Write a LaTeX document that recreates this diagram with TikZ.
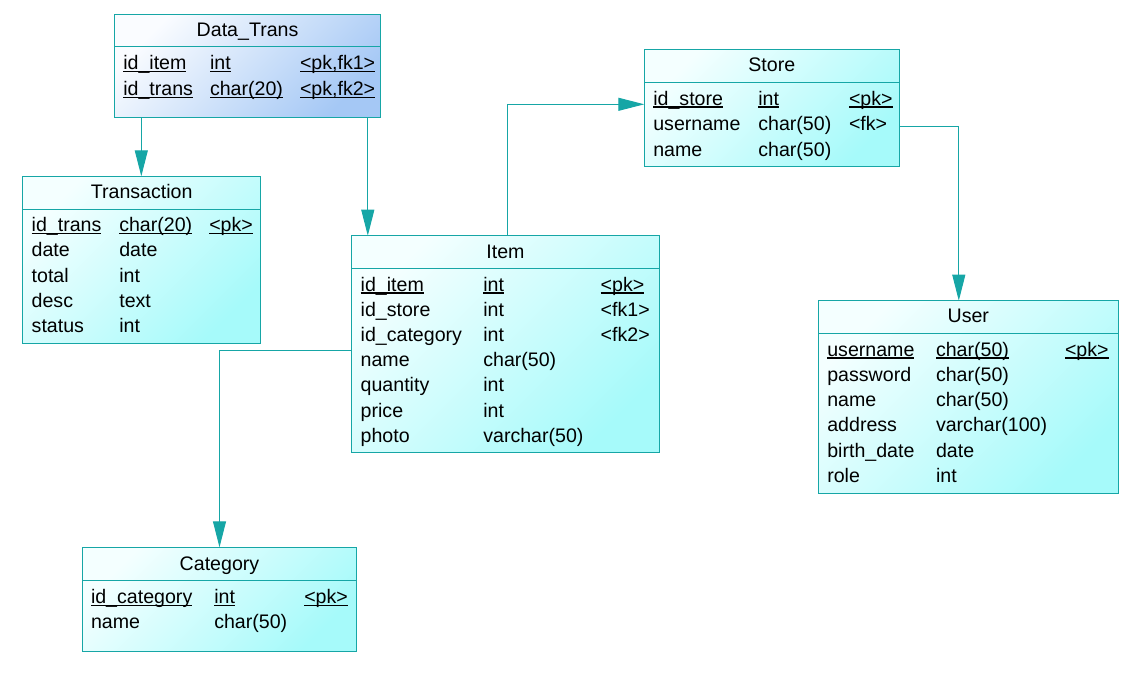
\documentclass[tikz,border=0pt]{standalone}
\usepackage{fontspec}
\setmainfont{Liberation Sans}
\usetikzlibrary{arrows.meta}
\definecolor{edge}{RGB}{22,166,166}
\definecolor{cyanlo}{RGB}{166,250,250}
\definecolor{cyanhi}{RGB}{244,255,255}
\definecolor{bluelo}{RGB}{165,200,245}
\definecolor{bluehi}{RGB}{250,252,255}
\newcommand{\erfld}[4]{\node[fieldtext] (#1) at (#2,-#3) {#4};}
\newcommand{\erpk}[4]{\node[fieldtext] (#1) at (#2,-#3) {#4};
  \draw[uline] ([yshift=-2pt]#1.base west) -- ([yshift=-2pt]#1.base east);}
\begin{document}
\begin{tikzpicture}[x=1pt,y=1pt,
  font=\fontsize{19.6}{22}\selectfont,
  tbl/.style={draw=edge, line width=1pt, inner sep=0pt, outer sep=0pt,
    anchor=north west, top color=cyanhi, bottom color=cyanlo, shading angle=45},
  tblblue/.style={tbl, top color=bluehi, bottom color=bluelo, shading angle=45},
  sep/.style={draw=edge, line width=1pt},
  fieldtext/.style={anchor=base west, inner sep=0pt, outer sep=0pt},
  titletext/.style={anchor=base, inner sep=0pt, outer sep=0pt},
  uline/.style={line width=1.2pt},
  conn/.style={draw=edge, line width=1pt,
    -{Triangle[length=26pt,width=13pt]}, fill=none}]
\useasboundingbox (0,0) rectangle (1133,-677);

% ---- Data_Trans ----
\node[tblblue, minimum width=266.5pt, minimum height=103pt] (dt) at (114.3,-14.5) {};
\draw[sep] (dt.west |- 0,-46.5) -- (dt.east |- 0,-46.5);
\node[titletext] (dtt) at (dt.north |- 0,-36.3) {Data\_Trans};
\erpk{dt1a}{123.3}{69.5}{id\_item}
\erpk{dt1b}{210}{69.5}{int}
\erpk{dt1c}{300}{69.5}{<pk,fk1>}
\erpk{dt2a}{123.3}{95.3}{id\_trans}
\erpk{dt2b}{210}{95.3}{char(20)}
\erpk{dt2c}{300}{95.3}{<pk,fk2>}

% ---- Transaction ----
\node[tbl, minimum width=238pt, minimum height=167pt] (tr) at (22.7,-176.3) {};
\draw[sep] (tr.west |- 0,-209.3) -- (tr.east |- 0,-209.3);
\node[titletext] (trt) at (tr.north |- 0,-198.3) {Transaction};
\erpk{tr1a}{31.7}{231.7}{id\_trans}
\erpk{tr1b}{119.3}{231.7}{char(20)}
\erpk{tr1c}{209.3}{231.7}{<pk>}
\erfld{tr2a}{31.7}{256.9}{date}
\erfld{tr2b}{119.3}{256.9}{date}
\erfld{tr3a}{31.7}{282.1}{total}
\erfld{tr3b}{119.3}{282.1}{int}
\erfld{tr4a}{31.7}{307.2}{desc}
\erfld{tr4b}{119.3}{307.2}{text}
\erfld{tr5a}{31.7}{332.3}{status}
\erfld{tr5b}{119.3}{332.3}{int}

% ---- Item ----
\node[tbl, minimum width=307.6pt, minimum height=217pt] (it) at (351.7,-235.7) {};
\draw[sep] (it.west |- 0,-268.3) -- (it.east |- 0,-268.3);
\node[titletext] (itt) at (it.north |- 0,-258.3) {Item};
\erpk{it1a}{360.7}{291}{id\_item}
\erpk{it1b}{483.3}{291}{int}
\erpk{it1c}{600.7}{291}{<pk>}
\erfld{it2a}{360.7}{316.2}{id\_store}
\erfld{it2b}{483.3}{316.2}{int}
\erfld{it2c}{600.7}{316.2}{<fk1>}
\erfld{it3a}{360.7}{341.4}{id\_category}
\erfld{it3b}{483.3}{341.4}{int}
\erfld{it3c}{600.7}{341.4}{<fk2>}
\erfld{it4a}{360.7}{366.6}{name}
\erfld{it4b}{483.3}{366.6}{char(50)}
\erfld{it5a}{360.7}{391.8}{quantity}
\erfld{it5b}{483.3}{391.8}{int}
\erfld{it6a}{360.7}{417}{price}
\erfld{it6b}{483.3}{417}{int}
\erfld{it7a}{360.7}{442.3}{photo}
\erfld{it7b}{483.3}{442.3}{varchar(50)}

% ---- Store ----
\node[tbl, minimum width=255pt, minimum height=116.3pt] (st) at (644.3,-49.7) {};
\draw[sep] (st.west |- 0,-82.3) -- (st.east |- 0,-82.3);
\node[titletext] (stt) at (st.north |- 0,-71.7) {Store};
\erpk{st1a}{653.3}{105}{id\_store}
\erpk{st1b}{758.3}{105}{int}
\erpk{st1c}{849}{105}{<pk>}
\erfld{st2a}{653.3}{130.5}{username}
\erfld{st2b}{758.3}{130.5}{char(50)}
\erfld{st2c}{849}{130.5}{<fk>}
\erfld{st3a}{653.3}{156}{name}
\erfld{st3b}{758.3}{156}{char(50)}

% ---- User ----
\node[tbl, minimum width=300pt, minimum height=192.6pt] (us) at (818.3,-300.7) {};
\draw[sep] (us.west |- 0,-333.3) -- (us.east |- 0,-333.3);
\node[titletext] (ust) at (us.north |- 0,-322.7) {User};
\erpk{us1a}{827.3}{356}{username}
\erpk{us1b}{936}{356}{char(50)}
\erpk{us1c}{1065}{356}{<pk>}
\erfld{us2a}{827.3}{381.3}{password}
\erfld{us2b}{936}{381.3}{char(50)}
\erfld{us3a}{827.3}{406.6}{name}
\erfld{us3b}{936}{406.6}{char(50)}
\erfld{us4a}{827.3}{431.8}{address}
\erfld{us4b}{936}{431.8}{varchar(100)}
\erfld{us5a}{827.3}{457}{birth\_date}
\erfld{us5b}{936}{457}{date}
\erfld{us6a}{827.3}{482.3}{role}
\erfld{us6b}{936}{482.3}{int}

% ---- Category ----
\node[tbl, minimum width=274.4pt, minimum height=103.7pt] (ca) at (82.3,-547.3) {};
\draw[sep] (ca.west |- 0,-580.7) -- (ca.east |- 0,-580.7);
\node[titletext] (cat) at (ca.north |- 0,-570) {Category};
\erpk{ca1a}{91}{603.3}{id\_category}
\erpk{ca1b}{214.3}{603.3}{int}
\erpk{ca1c}{304.3}{603.3}{<pk>}
\erfld{ca2a}{91}{628.5}{name}
\erfld{ca2b}{214.3}{628.5}{char(50)}

% ---- references ----
\draw[conn] (dt.south -| 141.3,0) -- (tr.north -| 141.3,0);
\draw[conn] (dt.south -| 367.8,0) -- (it.north -| 367.8,0);
\draw[conn] (it.north -| 507.3,0) |- (st.west |- 0,-104.3);
\draw[conn] (st.east |- 0,-126) -| (us.north -| 958.8,0);
\draw[conn] (it.west |- 0,-350.7) -| (ca.north -| 219.5,0);
\end{tikzpicture}
\end{document}
